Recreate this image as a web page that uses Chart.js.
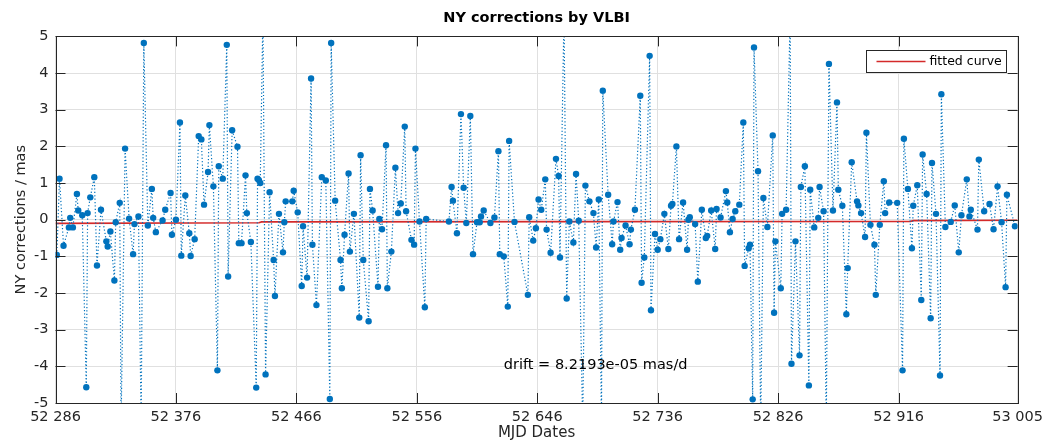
<!DOCTYPE html>
<html>
<head>
<meta charset="utf-8">
<title>NY corrections by VLBI</title>
<script src="https://cdn.jsdelivr.net/npm/chart.js@4.4.0/dist/chart.umd.min.js"></script>
<style>
  html, body { margin: 0; padding: 0; background: #fff; }
  #wrap { width: 1049px; height: 444px; }
</style>
</head>
<body>
<div id="wrap"><canvas id="vlbi-chart" width="1049" height="444"></canvas></div>
<script>
//Data (MJD date, correction in mas)
const mjdDates = [
  52287, 52289, 52292, 52296, 52297, 52299, 52302, 52303, 52306, 52309,
  52310, 52312, 52315, 52317, 52320, 52324, 52325, 52327, 52330, 52331,
  52334, 52335, 52338, 52341, 52344, 52345, 52348, 52350, 52352, 52355,
  52358, 52359, 52361, 52366, 52368, 52372, 52373, 52376, 52379, 52380,
  52383, 52386, 52387, 52390, 52393, 52395, 52397, 52400, 52401, 52404,
  52407, 52408, 52411, 52414, 52415, 52418, 52422, 52423, 52425, 52428,
  52429, 52432, 52436, 52437, 52438, 52439, 52441, 52443, 52446, 52449,
  52450, 52453, 52456, 52457, 52458, 52463, 52464, 52467, 52470, 52471,
  52474, 52477, 52478, 52481, 52485, 52488, 52491, 52492, 52495, 52499,
  52500, 52502, 52505, 52506, 52509, 52513, 52514, 52516, 52520, 52521,
  52523, 52527, 52528, 52530, 52533, 52534, 52537, 52540, 52542, 52544,
  52547, 52548, 52552, 52554, 52555, 52558, 52562, 52563, 52580, 52582,
  52583, 52586, 52589, 52591, 52593, 52596, 52598, 52601, 52603, 52604,
  52606, 52611, 52614, 52617, 52618, 52621, 52624, 52625, 52629, 52639,
  52640, 52643, 52645, 52647, 52649, 52652, 52653, 52656, 52660, 52662,
  52663, 52666, 52668, 52670, 52673, 52675, 52677, 52680, 52682, 52685,
  52688, 52690, 52692, 52694, 52695, 52699, 52702, 52703, 52706, 52708,
  52709, 52712, 52715, 52716, 52719, 52723, 52724, 52726, 52730, 52731,
  52734, 52736, 52738, 52741, 52744, 52746, 52747, 52750, 52752, 52755,
  52758, 52759, 52760, 52764, 52766, 52769, 52772, 52773, 52776, 52779,
  52780, 52783, 52787, 52788, 52790, 52792, 52794, 52797, 52800, 52801,
  52804, 52805, 52807, 52808, 52811, 52813, 52815, 52818, 52822, 52823,
  52824, 52828, 52829, 52832, 52835, 52836, 52839, 52842, 52843, 52846,
  52849, 52850, 52853, 52856, 52857, 52860, 52862, 52864, 52867, 52870,
  52871, 52874, 52877, 52878, 52881, 52885, 52886, 52888, 52891, 52892,
  52895, 52898, 52899, 52902, 52905, 52906, 52909, 52915, 52919, 52920,
  52923, 52926, 52927, 52930, 52933, 52934, 52937, 52940, 52941, 52944,
  52947, 52948, 52951, 52955, 52958, 52961, 52963, 52967, 52969, 52970,
  52975, 52976, 52980, 52984, 52987, 52990, 52993, 52996, 52997, 53003
];

const nyCorrections = [
  -0.96, 1.12, -0.71, -0.21, 0.05, -0.21, 0.70, 0.25, 0.12, -4.57,
  0.18, 0.61, 1.16, -1.25, 0.27, -0.59, -0.73, -0.32, -1.66, -0.07,
  0.46, -5.6, 1.94, 0.03, -0.94, -0.12, 0.09, -5.6, 4.82, -0.16,
  0.84, 0.05, -0.34, -0.02, 0.27, 0.73, -0.41, 0.00, 2.65, -0.98,
  0.66, -0.37, -0.99, -0.53, 2.28, 2.19, 0.41, 1.30, 2.58, 0.91,
  -4.11, 1.46, 1.12, 4.77, -1.55, 2.44, 1.99, -0.64, -0.64, 1.21,
  0.18, -0.61, -4.58, 1.12, 1.08, 1.00, 5.6, -4.22, 0.75, -1.10,
  -2.08, 0.16, -0.89, -0.07, 0.50, 0.50, 0.79, 0.20, -1.81, -0.18,
  -1.58, 3.85, -0.68, -2.33, 1.16, 1.07, -4.89, 4.82, 0.52, -1.10,
  -1.87, -0.41, 1.26, -0.87, 0.16, -2.67, 1.76, -1.10, -2.77, 0.84,
  0.25, -1.83, 0.02, -0.26, 2.03, -1.87, -0.87, 1.42, 0.18, 0.44,
  2.54, 0.23, -0.55, -0.68, 1.94, -0.05, -2.39, 0.02, -0.05, 0.89,
  0.52, -0.37, 2.88, 0.87, -0.09, 2.83, -0.94, -0.07, -0.07, 0.09,
  0.25, -0.09, 0.06, 1.87, -0.94, -1.00, -2.37, 2.15, -0.06, -2.05,
  0.07, -0.57, -0.23, 0.55, 0.27, 1.10, -0.27, -0.90, 1.66, 1.19,
  -1.03, 5.6, -2.15, -0.05, -0.62, 1.25, -0.03, -5.6, 0.93, 0.50,
  0.18, -0.76, 0.55, -5.6, 3.52, 0.68, -0.67, -0.05, 0.48, -0.82,
  -0.50, -0.16, -0.67, -0.27, 0.27, 3.38, -1.72, -1.03, 4.47, -2.47,
  -0.39, -0.82, -0.53, 0.16, -0.80, 0.38, 0.43, 2.00, -0.53, 0.47,
  -0.82, 0.00, 0.07, -0.12, -1.69, 0.27, -0.50, -0.44, 0.25, -0.80,
  0.29, 0.06, 0.78, 0.47, -0.34, 0.02, 0.23, 0.41, 2.65, -1.26,
  -0.78, -0.68, -4.90, 4.70, 1.32, -5.6, 0.59, -0.20, 2.30, -2.54,
  -0.59, -1.87, 0.16, 0.27, 5.6, -3.93, -0.59, -3.70, 0.89, 1.46,
  -4.52, 0.82, -0.21, 0.05, 0.89, 0.23, -5.6, 4.25, 0.25, 3.20,
  0.82, 0.38, -2.58, -1.32, 1.57, 0.50, 0.39, 0.18, -0.47, 2.37,
  -0.14, -0.68, -2.05, -0.14, 1.05, 0.18, 0.47, 0.46, -4.11, 2.21,
  0.84, -0.78, 0.38, 0.94, -2.19, 1.78, 0.70, -2.69, 1.55, 0.16,
  -4.25, 3.42, -0.20, -0.06, 0.39, -0.89, 0.12, 1.10, 0.09, 0.27,
  -0.27, 1.64, 0.23, 0.43, -0.26, 0.91, -0.07, -1.84, 0.68, -0.18
];

//fitted curve (small steps between the fit segments)
const fitDates = [52286, 52438, 52440, 52925, 52927, 53005];
const fitValues = [-0.10, -0.085, -0.06, -0.045, -0.025, -0.015];

const xTickValues = [52286, 52376, 52466, 52556, 52646, 52736, 52826, 52916, 53005];
const xMin = 52286;
const xMax = 53005;
const yMin = -5;
const yMax = 5;

const driftText = 'drift = 8.2193e-05 mas/d';
const driftPos = { x: 52621, y: -3.96 };

const blue = '#0072bd';
const red = '#d42a2a';
const axisColor = '#262626';

Chart.defaults.font.family = '"DejaVu Sans", sans-serif';
Chart.defaults.color = axisColor;

const ctx = document.getElementById('vlbi-chart');

//Box around the plot, inward ticks, legend and drift text (MATLAB look)
const matlabAxes = {
  id: 'matlabAxes',
  afterDatasetsDraw(chart) {
    const { ctx, chartArea: a, scales: { x, y } } = chart;
    const tickLen = 10;
    ctx.save();
    ctx.strokeStyle = axisColor;
    ctx.lineWidth = 1;
    ctx.beginPath();
    xTickValues.forEach(v => {
      const px = Math.round(x.getPixelForValue(v)) + 0.5;
      ctx.moveTo(px, a.bottom);
      ctx.lineTo(px, a.bottom - tickLen);
      ctx.moveTo(px, a.top);
      ctx.lineTo(px, a.top + tickLen);
    });
    for (let v = yMin; v <= yMax; v++) {
      const py = Math.round(y.getPixelForValue(v)) + 0.5;
      ctx.moveTo(a.left, py);
      ctx.lineTo(a.left + tickLen, py);
      ctx.moveTo(a.right, py);
      ctx.lineTo(a.right - tickLen, py);
    }
    ctx.stroke();
    ctx.strokeRect(Math.round(a.left) + 0.5, Math.round(a.top) + 0.5,
      Math.round(a.right - a.left), Math.round(a.bottom - a.top));

    // drift text
    ctx.fillStyle = '#000';
    ctx.font = '14.5px "DejaVu Sans", sans-serif';
    ctx.textAlign = 'left';
    ctx.textBaseline = 'middle';
    ctx.fillText(driftText, x.getPixelForValue(driftPos.x), y.getPixelForValue(driftPos.y));

    // legend
    const fit = chart.data.datasets[1];
    const bw = 140, bh = 22;
    const bx = Math.round(a.right) - 12 - bw + 0.5;
    const by = Math.round(a.top) + 14 + 0.5;
    ctx.fillStyle = '#fff';
    ctx.fillRect(bx, by, bw, bh);
    ctx.strokeStyle = axisColor;
    ctx.strokeRect(bx, by, bw, bh);
    ctx.strokeStyle = fit.borderColor;
    ctx.lineWidth = 1.5;
    ctx.beginPath();
    ctx.moveTo(bx + 10, by + bh / 2);
    ctx.lineTo(bx + 59, by + bh / 2);
    ctx.stroke();
    ctx.fillStyle = '#000';
    ctx.font = '12.5px "DejaVu Sans", sans-serif';
    ctx.fillText(fit.label, bx + 63, by + bh / 2 + 0.5);
    ctx.restore();
  }
};

const vlbiChart = new Chart(ctx, {
  type: 'line',
  data: {
    datasets: [{
      label: 'NY corrections',
      data: mjdDates.map((d, i) => ({ x: d, y: nyCorrections[i] })),
      borderColor: blue,
      borderWidth: 1.2,
      borderDash: [1.2, 2.2],
      pointRadius: 3.2,
      pointBackgroundColor: blue,
      pointBorderWidth: 0,
      tension: 0,
      clip: 0
    }, {
      label: 'fitted curve',
      data: fitDates.map((d, i) => ({ x: d, y: fitValues[i] })),
      borderColor: red,
      borderWidth: 1.6,
      pointRadius: 0,
      tension: 0,
      clip: 0
    }]
  },
  options: {
    responsive: false,
    animation: false,
    layout: {
      padding: { left: 0, right: 29, top: 0, bottom: 0 }
    },
    plugins: {
      legend: { display: false },
      tooltip: { enabled: false },
      title: {
        display: true,
        fullSize: false, // centre over the axes, not the canvas
        text: 'NY corrections by VLBI',
        color: '#000',
        font: { size: 14.5, weight: 'bold' },
        padding: { top: 10, bottom: 9 }
      }
    },
    scales: {
      x: {
        type: 'linear',
        min: xMin,
        max: xMax,
        afterBuildTicks: s => { s.ticks = xTickValues.map(v => ({ value: v })); },
        afterFit: s => { s.height = 41; },
        ticks: {
          autoSkip: false,
          maxRotation: 0,
          padding: 6,
          font: { size: 14.5 },
          callback: v => String(v).replace(/\B(?=(\d{3})+(?!\d))/g, ' ')
        },
        grid: { color: '#e0e0e0', drawTicks: false },
        border: { display: false },
        title: {
          display: true,
          text: 'MJD Dates',
          font: { size: 15 },
          padding: { top: 0, bottom: 2 }
        }
      },
      y: {
        min: yMin,
        max: yMax,
        afterFit: s => { s.width = 55.5; },
        ticks: {
          stepSize: 1,
          padding: 7,
          font: { size: 14.5 }
        },
        grid: { color: '#e0e0e0', drawTicks: false },
        border: { display: false },
        title: {
          display: true,
          text: 'NY corrections / mas',
          font: { size: 14.5 },
          padding: { top: 13, bottom: 0 }
        }
      }
    }
  },
  plugins: [matlabAxes]
});
</script>
</body>
</html>
